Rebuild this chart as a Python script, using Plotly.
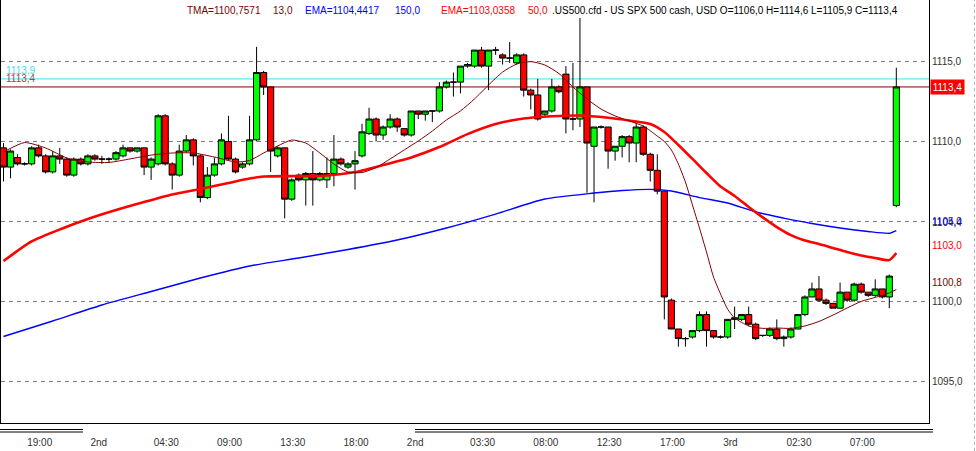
import plotly.graph_objects as go

# ---------------- data ----------------
bar_index = list(range(128))

opens = [1109.6, 1108.4, 1109.0, 1108.6, 1108.6, 1109.6, 1109.1, 1108.1, 1109.1, 1108.9,
         1107.9, 1108.9, 1108.6, 1109.1, 1108.9, 1108.9, 1108.9, 1109.1, 1109.6, 1109.4,
         1109.6, 1108.4, 1108.6, 1111.6, 1108.6, 1107.9, 1109.4, 1110.1, 1109.1, 1106.5,
         1107.9, 1108.6, 1110.0, 1108.9, 1108.4, 1108.6, 1110.1, 1114.3, 1113.4, 1109.1,
         1109.6, 1106.4, 1107.9, 1107.6, 1108.0, 1107.6, 1107.6, 1108.0, 1108.9, 1108.4,
         1108.6, 1109.1, 1110.5, 1111.4, 1110.4, 1110.9, 1111.4, 1110.8, 1110.4, 1111.9,
         1111.7, 1111.9, 1111.9, 1113.4, 1113.7, 1113.7, 1114.7, 1114.7, 1115.7, 1114.7,
         1115.7, 1115.4, 1115.2, 1114.9, 1115.4, 1113.2, 1112.9, 1111.7, 1111.9, 1113.4,
         1114.2, 1111.4, 1111.4, 1113.4, 1109.7, 1110.9, 1110.9, 1109.4, 1109.7, 1110.3,
         1109.9, 1110.9, 1109.2, 1108.2, 1106.9, 1100.1, 1098.3, 1097.7, 1097.8, 1098.2,
         1099.2, 1098.2, 1097.8, 1097.8, 1098.9, 1098.9, 1099.2, 1098.6, 1097.9, 1097.9,
         1098.3, 1097.7, 1097.8, 1098.3, 1099.2, 1100.3, 1100.8, 1100.1, 1099.9, 1099.6,
         1100.6, 1100.1, 1101.1, 1100.6, 1100.4, 1100.8, 1100.3, 1106.0]

closes = [1108.4, 1109.4, 1108.6, 1108.6, 1109.6, 1109.1, 1108.1, 1109.1, 1108.9, 1107.9,
          1108.9, 1108.6, 1109.1, 1108.9, 1108.9, 1108.9, 1109.3, 1109.6, 1109.4, 1109.6,
          1108.4, 1108.9, 1111.6, 1108.6, 1107.9, 1109.4, 1110.1, 1109.1, 1106.5, 1107.9,
          1108.6, 1110.1, 1108.9, 1108.1, 1108.6, 1110.1, 1114.3, 1113.4, 1109.4, 1109.6,
          1106.4, 1107.6, 1107.6, 1108.0, 1107.6, 1108.0, 1108.0, 1108.9, 1108.6, 1108.6,
          1108.8, 1110.6, 1111.4, 1110.4, 1110.9, 1111.4, 1110.9, 1110.4, 1111.9, 1111.7,
          1111.9, 1111.9, 1113.4, 1113.7, 1113.7, 1114.7, 1114.8, 1115.7, 1114.7, 1115.7,
          1115.7, 1115.2, 1115.2, 1115.4, 1113.2, 1112.9, 1111.4, 1111.9, 1113.4, 1113.1,
          1111.4, 1111.4, 1113.4, 1109.9, 1110.9, 1110.9, 1109.4, 1109.7, 1110.3, 1109.9,
          1110.9, 1109.2, 1108.2, 1106.9, 1100.3, 1098.3, 1097.7, 1097.7, 1098.2, 1099.2,
          1098.2, 1097.8, 1097.8, 1098.9, 1099.0, 1099.2, 1098.6, 1097.7, 1097.9, 1098.3,
          1097.7, 1097.8, 1098.3, 1099.2, 1100.3, 1100.8, 1100.1, 1099.9, 1099.6, 1100.6,
          1100.1, 1101.1, 1100.6, 1100.4, 1100.8, 1100.3, 1101.6, 1113.4]

highs = [1109.9, 1109.5, 1109.2, 1108.7, 1109.7, 1109.8, 1109.2, 1109.4, 1109.6, 1109.0,
         1109.0, 1109.0, 1109.2, 1109.2, 1109.1, 1109.0, 1109.4, 1109.8, 1109.6, 1109.6,
         1109.6, 1109.0, 1111.7, 1111.7, 1108.7, 1109.8, 1110.4, 1110.2, 1109.2, 1108.4,
         1109.0, 1110.5, 1111.6, 1109.0, 1108.7, 1111.6, 1115.9, 1114.4, 1113.4, 1109.7,
         1109.6, 1107.7, 1108.0, 1108.1, 1109.4, 1108.1, 1109.0, 1110.4, 1109.0, 1108.7,
         1109.4, 1111.1, 1112.1, 1111.5, 1111.0, 1111.7, 1111.5, 1110.8, 1111.9, 1111.9,
         1111.9, 1111.9, 1113.7, 1113.8, 1114.3, 1114.7, 1114.9, 1115.7, 1115.9, 1115.7,
         1115.9, 1115.5, 1116.2, 1115.5, 1115.5, 1113.3, 1113.9, 1111.9, 1113.9, 1113.5,
         1114.7, 1114.9, 1117.7, 1113.4, 1110.9, 1111.0, 1110.9, 1109.7, 1110.4, 1110.4,
         1111.3, 1111.0, 1109.3, 1109.2, 1106.9, 1100.2, 1098.3, 1097.8, 1098.2, 1099.4,
         1099.4, 1098.2, 1097.9, 1098.9, 1099.7, 1099.2, 1099.7, 1098.7, 1097.9, 1098.4,
         1098.9, 1097.9, 1098.4, 1099.2, 1100.4, 1101.2, 1101.6, 1100.2, 1099.9, 1101.2,
         1100.6, 1101.2, 1101.2, 1100.6, 1101.4, 1100.8, 1101.7, 1114.6]

lows = [1107.5, 1107.7, 1108.5, 1108.5, 1108.5, 1109.0, 1108.0, 1108.0, 1108.6, 1107.8,
        1107.8, 1108.5, 1108.5, 1108.8, 1108.6, 1108.7, 1108.8, 1109.0, 1109.3, 1109.3,
        1107.9, 1107.6, 1108.5, 1108.5, 1107.0, 1107.8, 1109.3, 1108.5, 1106.2, 1106.4,
        1107.8, 1108.5, 1108.8, 1108.0, 1108.3, 1108.5, 1110.0, 1112.9, 1108.1, 1109.0,
        1105.2, 1106.3, 1107.5, 1106.0, 1106.0, 1107.5, 1107.1, 1107.2, 1108.5, 1108.3,
        1107.0, 1109.0, 1110.4, 1110.0, 1110.1, 1110.8, 1110.6, 1110.3, 1110.3, 1111.4,
        1111.3, 1111.2, 1111.8, 1113.3, 1112.8, 1113.0, 1114.6, 1114.6, 1114.6, 1113.2,
        1115.4, 1114.8, 1114.9, 1114.8, 1112.8, 1112.0, 1111.3, 1111.6, 1111.8, 1113.0,
        1110.5, 1110.7, 1110.9, 1106.8, 1106.2, 1110.8, 1108.3, 1108.8, 1109.0, 1108.7,
        1108.7, 1109.1, 1107.5, 1106.7, 1098.9, 1098.3, 1097.2, 1097.2, 1097.7, 1098.1,
        1097.2, 1097.7, 1097.7, 1097.7, 1098.3, 1098.8, 1098.5, 1097.6, 1097.8, 1097.8,
        1097.6, 1097.2, 1097.7, 1098.3, 1099.1, 1100.3, 1100.0, 1099.8, 1099.6, 1099.6,
        1100.0, 1100.0, 1100.5, 1100.3, 1100.3, 1100.2, 1099.6, 1105.9]

# EMA(150) - blue
ema150_idx = [0, 7, 14, 21, 28, 35, 42, 49, 56, 63, 70, 77, 84, 88, 92, 95, 99, 103, 107,
              111, 115, 119, 123, 126, 127]
ema150_val = [1097.83, 1098.80, 1099.80, 1100.64, 1101.48, 1102.23, 1102.73, 1103.26,
              1103.85, 1104.60, 1105.47, 1106.41, 1106.78, 1106.94, 1107.01, 1106.91,
              1106.50, 1106.16, 1105.60, 1105.22, 1104.88, 1104.60, 1104.38, 1104.27,
              1104.44]

# EMA(50) - red
ema50_idx = [0, 4, 8, 12, 16, 20, 24, 28, 32, 35, 37, 42, 46, 50, 54, 58, 62, 66, 70, 74,
             78, 82, 86, 89, 92, 94, 96, 98, 100, 102, 104, 106, 108, 110, 112, 114, 116,
             118, 120, 122, 124, 126, 127]
ema50_val = [1102.54, 1103.76, 1104.51, 1105.16, 1105.72, 1106.22, 1106.69, 1107.03,
             1107.41, 1107.69, 1107.81, 1107.84, 1107.88, 1108.09, 1108.53, 1109.00,
             1109.65, 1110.46, 1111.09, 1111.43, 1111.57, 1111.62, 1111.48, 1111.31,
             1111.09, 1110.59, 1109.78, 1108.91, 1108.03, 1107.19, 1106.60, 1105.91,
             1105.26, 1104.66, 1104.16, 1103.82, 1103.60, 1103.35, 1103.10, 1102.89,
             1102.73, 1102.60, 1103.04]

# TMA(13) - maroon
tma_idx = [0, 3, 6, 9, 12, 15, 18, 21, 24, 27, 30, 33, 35, 37, 39, 41, 43, 45, 47, 49,
           51, 53, 55, 57, 59, 61, 63, 65, 67, 69, 71, 73, 75, 77, 79, 81, 83, 85, 87, 89,
           91, 93, 94, 95, 96, 97, 98, 99, 100, 101, 102, 103, 104, 106, 108, 110, 112,
           114, 116, 118, 120, 122, 124, 126, 127]
tma_val = [1109.34, 1109.93, 1109.59, 1108.97, 1108.72, 1108.69, 1108.91, 1109.15, 1109.28,
           1109.28, 1109.03, 1108.72, 1108.81, 1109.28, 1109.72, 1110.09, 1109.90, 1109.28,
           1108.59, 1108.09, 1108.06, 1108.37, 1108.91, 1109.47, 1110.03, 1110.65, 1111.34,
           1111.90, 1112.65, 1113.52, 1114.33, 1114.83, 1114.98, 1114.77, 1114.24, 1113.40,
           1112.65, 1112.02, 1111.59, 1111.28, 1110.96, 1110.34, 1110.00, 1109.47, 1108.59,
           1107.47, 1106.04, 1104.60, 1103.10, 1101.54, 1100.48, 1099.54, 1098.99, 1098.49,
           1098.34, 1098.36, 1098.34, 1098.49, 1098.77, 1099.17, 1099.61, 1100.02, 1100.27,
           1100.55, 1100.76]

ask_price = 1113.9
bid_price = 1113.4

# time-scale labels (left aligned at these bars)
time_label_idx = [4, 13, 22, 31, 40, 49, 58, 67, 76, 85, 94, 103, 112, 121]
time_labels = ["19:00", "2nd", "04:30", "09:00", "13:30", "18:00", "2nd", "03:30",
               "08:00", "12:30", "17:00", "3rd", "02:30", "07:00"]

price_ticks = [1095, 1100, 1105, 1110, 1115]
price_tick_text = ["1095,0", "1100,0", "1105,0", "1110,0", "1115,0"]

header_parts = [
    ("TMA=1100,7571", "#800000"),
    ("13,0", "#800000"),
    ("EMA=1104,4417", "#0000ff"),
    ("150,0", "#0000ff"),
    ("EMA=1103,0358", "#ff0000"),
    ("50,0", "#ff0000"),
    (".US500.cfd - US SPX 500 cash, USD O=1106,0 H=1114,6 L=1105,9 C=1113,4", "#000000"),
]

# ---------------- layout geometry ----------------
W, H = 976, 451
ML, MR, MT, MB = 1, 47, 0, 28
PW = W - ML - MR
PH = H - MT - MB
BAR_PX = 7.03
FIRST_CENTER = 3.5
x_lo = -(FIRST_CENTER - ML) / BAR_PX
x_hi = x_lo + PW / BAR_PX
PX_PER_PT = 16.03
Y_1115 = 61.3
y_hi = 1115 + (Y_1115 - MT) / PX_PER_PT
y_lo = 1115 - (MT + PH - Y_1115) / PX_PER_PT

FONT = "Liberation Sans"


def px(x):
    return (x - ML) / PW


def py(y):
    return (MT + PH - y) / PH


def fmt(v):
    return f"{v:.1f}".replace(".", ",")


fig = go.Figure()

fig.add_trace(go.Candlestick(
    x=bar_index, open=opens, high=highs, low=lows, close=closes,
    increasing=dict(fillcolor="#00ff00", line=dict(color="#000000", width=1)),
    decreasing=dict(fillcolor="#ff0000", line=dict(color="#000000", width=1)),
    whiskerwidth=0, showlegend=False, hoverinfo="skip",
))

fig.add_trace(go.Scatter(x=ema150_idx, y=ema150_val, mode="lines",
                         line=dict(color="#0000ff", width=1.4, shape="spline", smoothing=0.6),
                         showlegend=False, hoverinfo="skip"))
fig.add_trace(go.Scatter(x=ema50_idx, y=ema50_val, mode="lines",
                         line=dict(color="#ff0000", width=2.6, shape="spline", smoothing=0.6),
                         showlegend=False, hoverinfo="skip"))
fig.add_trace(go.Scatter(x=tma_idx, y=tma_val, mode="lines",
                         line=dict(color="#800000", width=1, shape="spline", smoothing=0.6),
                         showlegend=False, hoverinfo="skip"))

shapes = [
    dict(type="line", xref="paper", yref="y", x0=0, x1=1, y0=ask_price, y1=ask_price,
         line=dict(color="#40e0f0", width=1), layer="below"),
    dict(type="line", xref="paper", yref="y", x0=0, x1=1, y0=bid_price, y1=bid_price,
         line=dict(color="#800000", width=1), layer="below"),
    # time-scale double rules
    dict(type="line", xref="paper", yref="paper", x0=px(0), x1=px(83), y0=py(429.5), y1=py(429.5),
         line=dict(color="#000000", width=1)),
    dict(type="line", xref="paper", yref="paper", x0=px(0), x1=px(83), y0=py(432), y1=py(432),
         line=dict(color="#000000", width=1)),
    dict(type="line", xref="paper", yref="paper", x0=px(415), x1=px(933), y0=py(429.5), y1=py(429.5),
         line=dict(color="#000000", width=1)),
    dict(type="line", xref="paper", yref="paper", x0=px(415), x1=px(933), y0=py(432), y1=py(432),
         line=dict(color="#000000", width=1)),
    # window edge
    dict(type="line", xref="paper", yref="paper", x0=px(974.5), x1=px(974.5), y0=py(451), y1=py(0),
         line=dict(color="#b0b0b0", width=1, dash="dot")),
]

annotations = []
header_x = [185, 271, 303, 393, 439, 526, 550]
for (txt, col), hx in zip(header_parts, header_x):
    annotations.append(dict(xref="paper", yref="paper", x=px(hx), y=py(10), xanchor="left",
                            yanchor="middle", text=txt, showarrow=False,
                            font=dict(family=FONT, size=10, color=col)))

# right-hand value labels
annotations.append(dict(xref="paper", yref="y", x=px(930), y=bid_price, xanchor="left",
                        yanchor="middle", text=fmt(bid_price),
                        showarrow=False, bgcolor="#ff0000", width=33, height=14, borderpad=0,
                        font=dict(family=FONT, size=10, color="#ffffff")))
for txt, col, ypix in [(fmt(ema150_val[-1]), "#0000ff", 222),
                       (fmt(ema50_val[-1]), "#ff0000", 245),
                       (fmt(tma_val[-1]), "#800000", 282.7)]:
    annotations.append(dict(xref="paper", yref="paper", x=px(930), y=py(ypix), xanchor="left",
                            yanchor="middle", text=txt, showarrow=False,
                            font=dict(family=FONT, size=10, color=col)))

# top-left line labels
annotations.append(dict(xref="paper", yref="paper", x=px(4), y=py(70), xanchor="left",
                        yanchor="middle", text=fmt(ask_price), showarrow=False,
                        font=dict(family=FONT, size=10, color="#40e0f0")))
annotations.append(dict(xref="paper", yref="paper", x=px(4), y=py(78), xanchor="left",
                        yanchor="middle", text=fmt(bid_price), showarrow=False,
                        font=dict(family=FONT, size=10, color="#a04848")))

fig.update_layout(
    width=W, height=H,
    margin=dict(l=ML, r=MR, t=MT, b=MB, pad=0),
    paper_bgcolor="#ffffff", plot_bgcolor="#ffffff",
    boxgap=0.12, boxgroupgap=0,
    shapes=shapes, annotations=annotations,
    font=dict(family=FONT, size=10, color="#333333"),
    showlegend=False,
    xaxis=dict(range=[x_lo, x_hi], rangeslider=dict(visible=False), showgrid=False,
               zeroline=False, showline=True, mirror=True, linecolor="#000000", linewidth=1,
               tickvals=[i - 0.7 for i in time_label_idx], ticktext=time_labels,
               ticklabelposition="outside right", ticks="", ticklabelstandoff=10,
               tickfont=dict(family=FONT, size=10, color="#333333")),
    yaxis=dict(range=[y_lo, y_hi], side="right", showgrid=True, gridcolor="#808080",
               griddash="4px,4px", gridwidth=1, zeroline=False, showline=True, mirror=True,
               linecolor="#000000", linewidth=1, tickvals=price_ticks, ticktext=price_tick_text,
               ticks="", tickfont=dict(family=FONT, size=10, color="#333333")),
)

fig.write_html(
    "out.html",
    config={"displayModeBar": False},
    post_script="document.body.style.margin='0';document.body.style.padding='0';"
                "document.body.style.overflow='hidden';",
)
